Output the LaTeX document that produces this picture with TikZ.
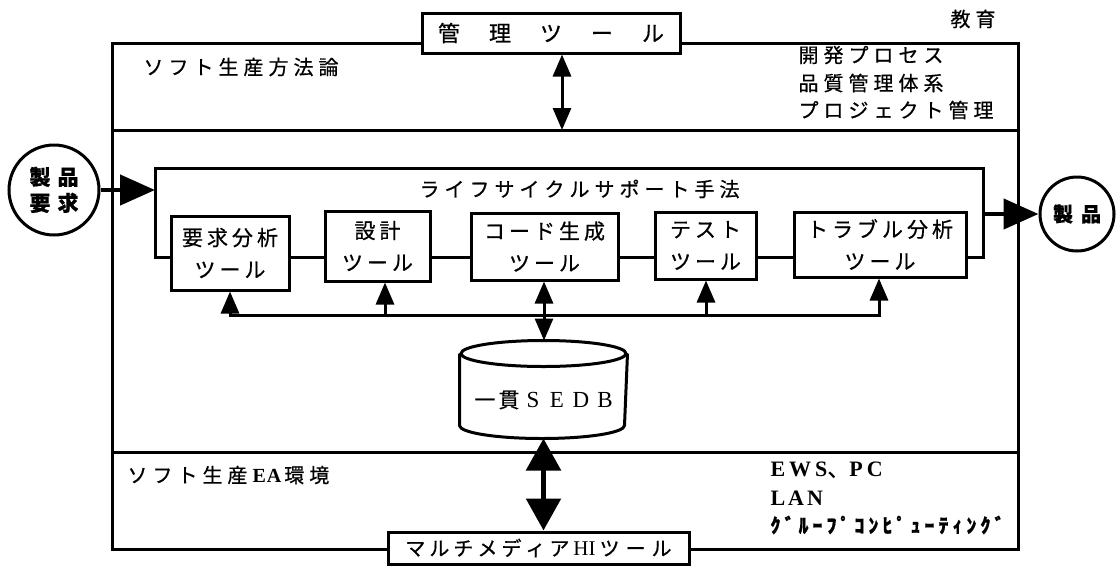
\documentclass[tikz,border=0pt]{standalone}
\usepackage{fontspec}
\setmainfont{Liberation Serif}
\newfontfamily\jp[FakeBold=0.6]{Noto Sans CJK JP}
\usetikzlibrary{arrows.meta,calc}
\newdimen\lsk
\def\spaced#1#2{\lsk=#1\relax\spacedi#2\relax\unkern}
\def\spacedi#1{\ifx#1\relax\else#1\kern\lsk\expandafter\spacedi\fi}
\begin{document}
\begin{tikzpicture}[x=1pt,y=-1pt,
  line width=3pt, line join=miter,
  box/.style={draw, line width=3pt, inner sep=0pt, align=center, font=\jp\fontsize{21pt}{32pt}\selectfont},
  lab/.style={inner sep=0pt, font=\jp\fontsize{20pt}{22pt}\selectfont},
  ar/.style={-{Triangle[length=22pt,width=18pt]}},
  dar/.style={{Triangle[length=22pt,width=18pt]}-{Triangle[length=22pt,width=18pt]}},
  big/.style={line width=4.5pt,-{Triangle[length=35pt,width=30pt]}},
  thick2/.style={line width=5.5pt,{Triangle[length=32pt,width=34pt]}-{Triangle[length=32pt,width=34pt]}},
  ]
\useasboundingbox (0,0) rectangle (1119,566);
% frame
\coordinate (tl) at (112,43);
\coordinate (tr) at (1018,43);
\coordinate (bl) at (112,549);
\coordinate (br) at (1018,549);
\coordinate (m1l) at (112,130);
\coordinate (m1r) at (1018,130);
\coordinate (m3l) at (112,452);
\coordinate (m3r) at (1018,452);
\node[box, minimum width=258pt, minimum height=40pt, font=\jp\fontsize{22pt}{24pt}\selectfont] (mgmt) at (551,33) {\spaced{29pt}{管理ツール}};
\node[box, minimum width=301pt, minimum height=32pt, font=\jp\fontsize{20pt}{22pt}\selectfont] (hi) at (538.5,548) {\spaced{4pt}{マルチメディア}\kern4pt{\rmfamily\fontsize{21pt}{22pt}\selectfont HI}\kern4pt\spaced{6pt}{ツール}};
\draw (mgmt.west |- tl) -- (tl) -- (bl) -- (hi.west |- bl);
\draw (mgmt.east |- tr) -- (tr) -- (br) -- (hi.east |- br);
\draw (m1l) -- (m1r);
\draw (m3l) -- (m3r);
\coordinate (m1) at (562,130);
\draw[dar] (m1 |- mgmt.south) -- (m1);
% texts in frame
\node[lab, anchor=west] (t1) at (142,67) {\spaced{5pt}{ソフト生産方法論}};
\node[lab] (edu) at (973,19) {\spaced{5pt}{教育}};
\node[lab, anchor=west] (p1) at (797,55) {\spaced{5pt}{開発プロセス}};
\node[lab, anchor=west] (p2) at (797,83) {\spaced{5pt}{品質管理体系}};
\node[lab, anchor=west] (p3) at (797,110) {\spaced{5pt}{プロジェクト管理}};
\node[lab, anchor=west] (lc) at (418,189) {\spaced{5pt}{ライフサイクルサポート手法}};
\node[lab, anchor=west] (ea) at (126,475) {\spaced{5pt}{ソフト生産}\kern5pt{\rmfamily\bfseries\fontsize{20pt}{22pt}\selectfont\spaced{1pt}{EA}}\kern3pt\spaced{5pt}{環境}};
\node[lab, anchor=west, font=\rmfamily\bfseries\fontsize{22pt}{24pt}\selectfont] (ews) at (769,470) {\spaced{4pt}{EWS}{\jp\mdseries 、}\spaced{4pt}{PC}};
\node[lab, anchor=west, font=\rmfamily\bfseries\fontsize{22pt}{24pt}\selectfont] (lan) at (769,498) {\spaced{3pt}{LAN}};
\node[lab, anchor=west, font=\jp\bfseries\fontsize{20pt}{22pt}\selectfont] (grp) at (769,525) {\spaced{4pt}{ｸﾞﾙｰﾌﾟｺﾝﾋﾟｭｰﾃｨﾝｸﾞ}};
% circles
\node[circle, draw, minimum size=90pt, inner sep=0pt, align=center, font=\jp\bfseries\fontsize{21pt}{26pt}\selectfont] (reqc) at (54,190) {\spaced{7pt}{製品}\\\spaced{7pt}{要求}};
\node[circle, draw, minimum size=74pt, inner sep=0pt, font=\jp\bfseries\fontsize{20pt}{22pt}\selectfont] (prod) at (1077,214) {\spaced{8pt}{製品}};
% tool boxes
\node[box, minimum width=118pt, minimum height=74pt] (req) at (230,253) {\spaced{4pt}{要求分析}\\\spaced{4pt}{ツール}};
\node[box, minimum width=105pt, minimum height=70pt] (des) at (377.5,246) {\spaced{4pt}{設計}\\\spaced{4pt}{ツール}};
\node[box, minimum width=147pt, minimum height=67pt] (code) at (544.5,246.5) {\spaced{4pt}{コード生成}\\\spaced{4pt}{ツール}};
\node[box, minimum width=101pt, minimum height=67pt] (test) at (705.5,245.5) {\spaced{4pt}{テスト}\\\spaced{4pt}{ツール}};
\node[box, minimum width=172pt, minimum height=65pt] (trouble) at (880,244.5) {\spaced{4pt}{トラブル分析}\\\spaced{4pt}{ツール}};
% lifecycle frame
\coordinate (lcnw) at (155,168);
\coordinate (lcne) at (983,168);
\coordinate (chain) at (0,257);
\draw (req.west |- chain) -| (lcnw) -- (lcne) |- (trouble.east |- chain);
\draw (req.east |- chain) -- (des.west |- chain);
\draw (des.east |- chain) -- (code.west |- chain);
\draw (code.east |- chain) -- (test.west |- chain);
\draw (test.east |- chain) -- (trouble.west |- chain);
\draw[big] (reqc.east) -- (lcnw |- reqc.east);
\draw[big] (lcne |- prod.west) -- (prod.west);
% database
\node[minimum width=165pt, minimum height=95pt, inner sep=0pt] (db) at (543.5,389.5) {};
\draw ($(db.north)+(0,13)$) ellipse [x radius=82.5pt, y radius=13pt];
\draw ($(db.north west)+(0,13)$) -- ($(db.south west)+(0,-13)$) arc[start angle=180, end angle=360, x radius=82.5pt, y radius=13pt] -- ($(db.north east)+(0,13)$);
\node[lab, font=\jp\fontsize{21pt}{22pt}\selectfont] (dbt) at (545,400) {\makebox[24pt]{一}\makebox[24pt]{貫}{\rmfamily\fontsize{23pt}{24pt}\selectfont\makebox[24pt]{S}\makebox[24pt]{E}\makebox[24pt]{D}\makebox[24pt]{B}}};
% bus
\coordinate (b1) at (230,315);
\coordinate (b2) at (385,315);
\coordinate (b3) at (544,315);
\coordinate (b4) at (706,315);
\coordinate (b5) at (879,315);
\draw[ar] (b5) -- (b1) -- (b1 |- req.south);
\draw[ar] (b1) -- (b5) -- (b5 |- trouble.south);
\draw[ar] (b2) -- (b2 |- des.south);
\draw[ar] (b4) -- (b4 |- test.south);
\draw[dar] (b3 |- code.south) -- (b3 |- db.north);
\draw[thick2] (db.south) -- (db.south |- hi.north);
\end{tikzpicture}
\end{document}
